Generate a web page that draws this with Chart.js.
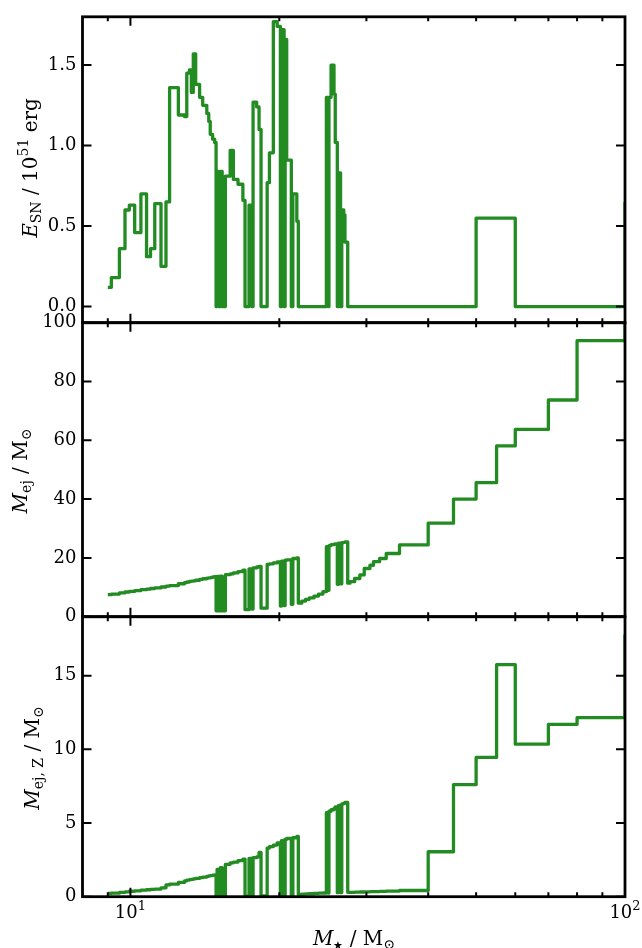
<!DOCTYPE html>
<html>
<head>
<meta charset="utf-8">
<script src="https://cdn.jsdelivr.net/npm/chart.js@4.4.1/dist/chart.umd.min.js"></script>
<style>
    html, body { margin: 0; padding: 0; background: #ffffff; }
    #stack { position: relative; width: 642px; height: 948px; overflow: hidden; }
    #stack canvas { position: absolute; left: 0; top: 0; }
</style>
</head>
<body>
<div id="stack">
    <canvas id="energy" width="642" height="948"></canvas>
    <canvas id="ejecta" width="642" height="948"></canvas>
    <canvas id="metals" width="642" height="948"></canvas>
</div>
<script>
// progenitor grid (solar masses); each value holds until the next mass
const stellarMass = [
    9.0, 9.15, 9.5, 9.75, 9.95, 10.2, 10.5, 10.78, 10.98, 11.2, 11.53, 11.8, 12.0, 12.5,
    12.86, 13.0, 13.16, 13.28, 13.4, 13.55, 13.8, 14.0, 14.27, 14.4, 14.5, 14.66, 14.8,
    14.9, 14.97, 15.1, 15.2, 15.33, 15.56, 15.91, 16.15, 16.5, 16.88, 17.05, 17.37, 17.6,
    17.7, 18.0, 18.2, 18.37, 18.9, 19.1, 19.45, 19.8, 20.1, 20.2, 20.45, 20.55, 20.7,
    21.15, 21.3, 21.7, 21.85,
    22.2, 22.6, 23.0, 23.5, 24.0, 24.5,
    24.9, 25.1, 25.2, 25.45, 25.8, 25.95, 26.2, 26.35, 26.6, 26.75, 27.0, 27.15, 27.5,
    27.8, 28.4, 29.1, 29.7, 30.5, 31.0, 31.9, 32.9, 35.0, 40.0, 45.0, 50.0, 55.0, 60.0,
    70.0, 80.0, 100.0
];

// explosion energy, 10^51 erg
const explosionEnergy = [
    0.12, 0.18, 0.36, 0.60, 0.63, 0.46, 0.70, 0.31, 0.36, 0.64, 0.25, 0.65, 1.36, 1.19,
    1.18, 1.45, 1.47, 1.33, 1.57, 1.38, 1.30, 1.25, 1.20, 1.15, 1.07, 1.04, 1.02,
    0, 0.84, 0, 0.84, 0, 0.81, 0.97, 0.79, 0.76, 0.66, 0, 0.63, 0,
    1.27, 1.24, 1.10, 0, 0.77, 0.955, 1.77, 1.74, 0, 1.72, 0, 1.66, 0.91,
    0, 0.70, 0.53, 0,
    0, 0, 0, 0, 0, 0,
    1.30, 0, 1.30, 1.50, 1.32, 1.02, 0, 0.83, 0, 0.60, 0.57, 0.40, 0,
    0, 0, 0, 0, 0, 0, 0, 0, 0, 0, 0, 0.55, 0.55, 0,
    0, 0, 0.65
];

// total ejected mass, solar masses
const ejectaMass = [
    7.5, 7.7, 8.1, 8.4, 8.6, 8.9, 9.2, 9.4, 9.6, 9.8, 10.1, 10.4, 10.6, 11.2,
    11.6, 11.8, 12.0, 12.1, 12.2, 12.4, 12.7, 12.9, 13.1, 13.2, 13.3, 13.5, 13.6,
    2.0, 13.7, 2.0, 13.8, 2.0, 14.3, 14.6, 14.9, 15.3, 15.8, 2.4, 16.3, 2.6,
    16.6, 16.9, 17.1, 2.9, 17.8, 18.0, 18.3, 18.6, 3.6, 18.9, 3.8, 19.2, 19.3,
    4.2, 19.8, 20.0, 4.6,
    5.3, 5.9, 6.4, 7.0, 7.7, 8.5,
    23.8, 9.0, 24.2, 24.5, 24.7, 24.8, 11.0, 25.0, 11.2, 25.2, 25.3, 25.4, 11.4,
    11.9, 13.0, 14.2, 16.4, 17.5, 18.7, 19.8, 21.5, 24.4, 31.8, 40.0, 45.6, 58.1, 63.7,
    73.7, 93.9, 110.0
];

// ejected metal mass, solar masses
const metalMass = [
    0.22, 0.24, 0.29, 0.33, 0.37, 0.40, 0.44, 0.47, 0.50, 0.52, 0.60, 0.80, 0.85, 0.97,
    1.08, 1.13, 1.16, 1.18, 1.21, 1.24, 1.29, 1.33, 1.38, 1.41, 1.43, 1.46, 1.48,
    0.04, 1.85, 0.04, 1.97, 0.04, 2.2, 2.3, 2.35, 2.45, 2.55, 0.04, 2.6, 0.04,
    2.65, 2.7, 3.0, 0.05, 3.3, 3.4, 3.5, 3.65, 0.05, 3.8, 0.05, 3.9, 3.95,
    0.05, 4.0, 4.1, 0.15,
    0.17, 0.19, 0.20, 0.22, 0.24, 0.25,
    5.7, 0.25, 5.8, 5.9, 6.0, 6.1, 0.27, 6.2, 0.28, 6.3, 6.35, 6.4, 0.30,
    0.30, 0.31, 0.32, 0.33, 0.34, 0.35, 0.36, 0.38, 0.42, 3.05, 7.6, 9.45, 15.75, 10.35,
    11.7, 12.15, 17.8
];

const massTicks = [10, 100];
const massTickPowers = ["1", "2"];
const massMinorTicks = [9, 20, 30, 40, 50, 60, 70, 80, 90];

const energyTicks = [0, 0.5, 1.0, 1.5];
const ejectaTicks = [0, 20, 40, 60, 80, 100];
const metalTicks = [0, 5, 10, 15];

const GREEN = "#228b22";
const SERIF = "'DejaVu Serif', 'Liberation Serif', serif";
const PLOT_LEFT = 82.5;
const PLOT_RIGHT = 625;

function runsFont(size, italic) {
    return (italic ? "italic " : "") + size + "px " + SERIF;
}

// draws a row of text pieces (sub/superscripts) centred on (x, y)
function drawRuns(ctx, runs, x, y, angle) {
    ctx.save();
    ctx.translate(x, y);
    ctx.rotate(angle);
    ctx.fillStyle = "#000";
    ctx.textBaseline = "alphabetic";
    ctx.textAlign = "left";

    let total = 0;
    runs.forEach(r => {
        ctx.font = r.font;
        r.w = ctx.measureText(r.text).width;
        total += r.w;
    });

    let cx = -total / 2;
    runs.forEach(r => {
        ctx.font = r.font;
        ctx.fillText(r.text, cx, r.dy || 0);
        cx += r.w;
    });
    ctx.restore();
}

const BIG = 20;
const SMALL = 14;
const TICK = 18;

const energyTitle = [
    { text: "E", font: runsFont(BIG, true) },
    { text: "SN", font: runsFont(SMALL), dy: 4 },
    { text: " / 10", font: runsFont(BIG) },
    { text: "51", font: runsFont(SMALL), dy: -9 },
    { text: " erg", font: runsFont(BIG) }
];

const ejectaTitle = [
    { text: "M", font: runsFont(BIG, true) },
    { text: "ej", font: runsFont(SMALL), dy: 4 },
    { text: " / M", font: runsFont(BIG) },
    { text: "\u2299", font: runsFont(SMALL), dy: 4 }
];

const metalTitle = [
    { text: "M", font: runsFont(BIG, true) },
    { text: "ej, Z", font: runsFont(SMALL), dy: 4 },
    { text: " / M", font: runsFont(BIG) },
    { text: "\u2299", font: runsFont(SMALL), dy: 4 }
];

const massTitle = [
    { text: "M", font: runsFont(BIG, true) },
    { text: "\u2605", font: runsFont(11), dy: 4 },
    { text: " / M", font: runsFont(BIG) },
    { text: "\u2299", font: runsFont(SMALL), dy: 4 }
];

// axes box with inward ticks on all four sides
const frame = {
    id: "frame",
    afterDraw(chart, args, opts) {
        const { ctx, chartArea: a, scales: { x, y } } = chart;
        ctx.save();
        ctx.strokeStyle = "#000";
        ctx.lineWidth = 2;
        ctx.beginPath();

        y.ticks.forEach(t => {
            const py = y.getPixelForValue(t.value);
            ctx.moveTo(a.left, py);
            ctx.lineTo(a.left + 9, py);
            ctx.moveTo(a.right, py);
            ctx.lineTo(a.right - 9, py);
        });

        massTicks.forEach(m => {
            const px = x.getPixelForValue(m);
            ctx.moveTo(px, a.top);
            ctx.lineTo(px, a.top + 9);
            ctx.moveTo(px, a.bottom);
            ctx.lineTo(px, a.bottom - 9);
        });

        massMinorTicks.forEach(m => {
            const px = x.getPixelForValue(m);
            ctx.moveTo(px, a.top);
            ctx.lineTo(px, a.top + 4.5);
            ctx.moveTo(px, a.bottom);
            ctx.lineTo(px, a.bottom - 4.5);
        });
        ctx.stroke();

        ctx.lineWidth = 2.8;
        ctx.strokeRect(a.left, a.top, a.right - a.left, a.bottom - a.top);

        // powers of ten under the bottom panel
        if (opts.massLabels)
            massTicks.forEach((m, i) => {
                drawRuns(ctx, [
                    { text: "10", font: runsFont(TICK) },
                    { text: massTickPowers[i], font: runsFont(13), dy: -8 }
                ], x.getPixelForValue(m), a.bottom + 21.5, 0);
            });

        if (opts.yTitle)
            drawRuns(ctx, opts.yTitle.runs, opts.yTitle.x, opts.yTitle.y, -Math.PI / 2);
        if (opts.xTitle)
            drawRuns(ctx, opts.xTitle.runs, opts.xTitle.x, opts.xTitle.y, 0);

        ctx.restore();
    }
};

function drawPanel(
    canvasId,
    values,
    box,
    yRange,
    yTicks,
    yFormat,
    decor
) {
    return new Chart(document.getElementById(canvasId), {
        type: "line",
        data: {
            datasets: [
                {
                    data: stellarMass.map((m, i) => ({ x: m, y: values[i] })),
                    borderColor: GREEN,
                    borderWidth: 3.3,
                    stepped: "before",
                    pointRadius: 0,
                    borderJoinStyle: "round",
                    clip: 0,
                    fill: false
                }
            ]
        },
        options: {
            responsive: false,
            animation: false,
            events: [],
            layout: {
                padding: {
                    left: 0,
                    right: 642 - PLOT_RIGHT,
                    top: box[0],
                    bottom: 0
                }
            },
            scales: {
                x: {
                    type: "logarithmic",
                    min: 8,
                    max: 100,
                    afterFit: s => { s.height = 948 - box[1]; },
                    grid: { display: false, drawTicks: false },
                    border: { display: false },
                    ticks: { display: false }
                },
                y: {
                    min: yRange[0],
                    max: yRange[1],
                    afterFit: s => { s.width = PLOT_LEFT; },
                    afterBuildTicks: s => {
                        s.ticks = yTicks.map(v => ({ value: v }));
                    },
                    grid: { display: false, drawTicks: false },
                    border: { display: false },
                    ticks: {
                        padding: 6,
                        color: "#000",
                        font: { family: SERIF, size: TICK },
                        callback: yFormat
                    }
                }
            },
            plugins: {
                legend: { display: false },
                tooltip: { enabled: false },
                frame: decor
            }
        },
        plugins: [frame]
    });
}

drawPanel(
    "energy",
    explosionEnergy,
    [11.5, 322.7],
    [-0.1, 1.8],
    energyTicks,
    v => v.toFixed(1),
    { yTitle: { runs: energyTitle, x: 36.5, y: 168 } }
);

drawPanel(
    "ejecta",
    ejectaMass,
    [322.7, 616.7],
    [0, 100],
    ejectaTicks,
    v => String(v),
    { yTitle: { runs: ejectaTitle, x: 26.5, y: 471 } }
);

drawPanel(
    "metals",
    metalMass,
    [616.7, 896.7],
    [0, 19],
    metalTicks,
    v => String(v),
    {
        yTitle: { runs: metalTitle, x: 39, y: 758 },
        xTitle: { runs: massTitle, x: 354, y: 944.5 },
        massLabels: true
    }
);
</script>
</body>
</html>
